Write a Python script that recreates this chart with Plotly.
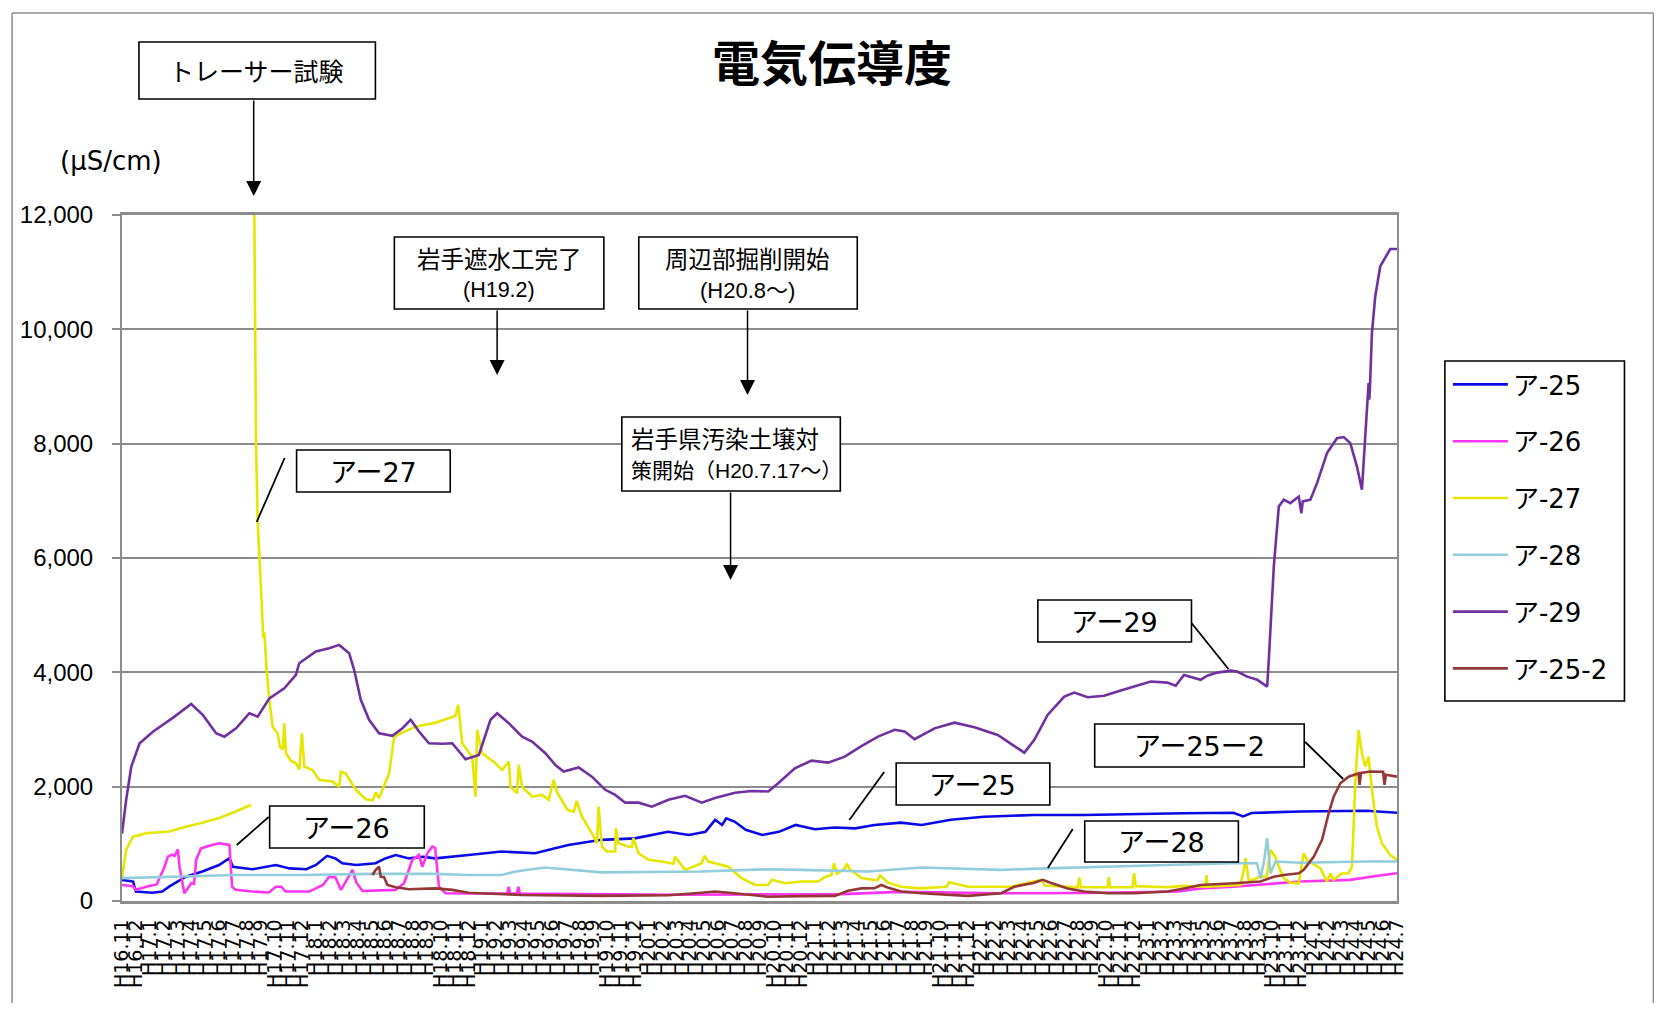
import plotly.graph_objects as go

# ---------------- data (x = months since H16.11) ----------------
era_months = [(16, m) for m in (11, 12)] + [(y, m) for y in range(17, 24) for m in range(1, 13)] + [(24, m) for m in range(1, 8)]
tick_labels = ["H%d.%d" % (y, m) for (y, m) in era_months]
tick_positions = list(range(len(tick_labels)))

a25_x = [0, 0.8, 1.0, 2.2, 2.9, 3.4, 4.6, 5.8, 7.0, 7.75, 8.0, 9.4, 11.1, 12.1, 13.3, 14.0, 14.8, 15.4, 15.9, 16.9,
         18.3, 19.0, 19.75, 20.7, 21.7, 22.6, 25.0, 27.4, 29.8, 32.2, 34.6, 37.0, 39.4, 40.9, 42.1, 42.8, 43.3, 43.6,
         44.2, 45.0, 46.2, 47.4, 48.6, 50.0, 51.4, 52.9, 54.3, 56.2, 57.7, 59.8, 62.2, 65.8, 69.4, 73.0, 76.6, 80.2,
         80.9, 81.5, 85.0, 89.8, 92]
a25_y = [370, 340, 165, 145, 165, 250, 425, 515, 630, 750, 600, 555, 630, 570, 555, 630, 790, 745, 660, 630,
         660, 745, 805, 745, 775, 745, 805, 865, 835, 980, 1070, 1095, 1210, 1155, 1210, 1420, 1330, 1445,
         1390, 1245, 1155, 1210, 1330, 1255, 1285, 1270, 1330, 1370, 1330, 1420, 1475, 1505, 1505, 1525, 1535, 1545,
         1480, 1540, 1565, 1580, 1545]

a26_x = [0, 0.8, 1.0, 1.75, 2.5, 3.07, 3.31, 3.6, 3.8, 4.03, 4.15, 4.5, 5.0, 5.2, 5.35, 5.7, 6.3, 7.0, 7.75, 7.94,
         8.2, 9.4, 10.6, 11.1, 11.5, 11.8, 13.5, 14.5, 14.95, 15.4, 15.8, 16.27, 16.63, 16.9, 17.35, 19.75, 20.35,
         20.95, 21.43, 21.67, 22.03, 22.39, 22.6, 22.87, 23.35, 27.8, 27.9, 28.0, 28.5, 28.6, 28.7, 40.0, 52.0, 56.0,
         63.4, 69.4, 76.2, 77.8, 80.2, 85.0, 88.6, 91.0, 92]
a26_y = [280, 260, 195, 250, 290, 600, 775, 810, 790, 905, 600, 135, 310, 300, 720, 920, 965, 1010, 980, 250,
         195, 165, 150, 250, 250, 165, 165, 280, 425, 410, 195, 395, 545, 330, 175, 195, 310,
         720, 805, 600, 835, 950, 930, 250, 135, 130, 250, 130, 130, 250, 130, 110, 120, 160,
         135, 140, 165, 220, 250, 340, 370, 455, 485]

a27_x = [0, 0.3, 0.8, 1.75, 3.4, 4.6, 5.8, 7.0, 8.2, 9.3, None,
         9.55, 9.67, 9.79, 10.0, 10.11, 10.2, 10.27, 10.45, 10.63, 10.87, 11.23, 11.4, 11.6, 11.71, 11.83, 12.2,
         12.55, 12.8, 12.98, 13.15, 13.75, 14.23, 15.19, 15.67, 15.79, 16.15, 16.87, 17.59, 18.1, 18.3, 18.55,
         18.91, 19.27, 19.63, 19.87, 21.19, 22.63, 24.07, 24.26, 24.35, 24.55, 25.27, 25.51, 25.63, 25.99, 26.95,
         27.43, 27.91, 28.03, 28.51, 28.63, 28.87, 29.59, 30.31, 30.79, 31.15, 31.4, 32.15, 32.6, 32.8, 33.19,
         33.91, 34.27, 34.39, 34.63, 34.99, 35.59, 35.64, 35.83, 36.55, 36.8, 36.9, 37.27, 37.99, 38.95, 39.8,
         39.9, 40.63, 41.83, 42.02, 42.31, 43.75, 44.71, 45.67, 46.63, 46.9, 47.83, 49.03, 50.23, 50.71, 51.19,
         51.38, 51.6, 52.15, 52.3, 52.5, 53.35, 54.5, 54.7, 55.27, 56.23, 57.67, 59.5, 59.7, 61.03, 64.15, 66.31,
         66.6, 68.95, 69.07, 69.2, 71.11, 71.2, 71.3, 72.91, 73.03, 73.15, 75.43, 76.6, 78.19, 78.25, 78.35, 80.71,
         80.95, 81.07, 81.31, 82.03, 82.6, 82.87, 83.2, 83.47, 83.83, 84.31, 84.91, 85.1, 85.27, 85.51, 86.47,
         86.95, 87.2, 87.43, 88.0, 88.51, 88.75, 89.0, 89.23, 89.47, 89.71, 89.95, 90.19, 90.55, 90.91, 91.51, 92]
a27_y = [400, 900, 1125, 1185, 1215, 1300, 1370, 1450, 1565, 1680, None,
         12000, 8000, 6650, 5600, 5270, 4600, 4700, 4000, 3520, 3050, 2930, 2700, 2650, 3110, 2585, 2450,
         2410, 2300, 2935, 2350, 2290, 2120, 2090, 2000, 2260, 2230, 1945, 1780, 1760, 1900, 1800,
         2000, 2230, 2850, 2905, 3050, 3120, 3240, 3430, 3230, 2760, 2525, 1825, 2990, 2585, 2410,
         2290, 2440, 2000, 1885, 2380, 2000, 1825, 1855, 1770, 2120, 1900, 1595, 1560, 1750, 1475,
         1185, 1010, 1650, 950, 865, 865, 1270, 1010, 950, 950, 1100, 835, 720, 690, 650,
         780, 545, 660, 790, 690, 600, 400, 280, 280, 370, 310, 340, 340, 415, 455,
         660, 480, 570, 650, 560, 400, 360, 450, 320, 250, 220, 250, 330, 250, 250, 370,
         270, 240, 410, 240, 240, 420, 240, 240, 485, 260, 240, 265, 250, 450, 250, 280,
         545, 750, 340, 415, 430, 895, 780, 600, 400, 320, 310, 600, 835, 720, 570,
         340, 480, 370, 480, 485, 600, 2120, 2990, 2585, 2350, 2525, 1945, 1300, 1010, 805, 720]

a28_x = [0, 3.4, 8.2, 13.0, 17.8, 22.6, 25.0, 27.4, 28.4, 30.5, 32.2, 34.6, 41.8, 46.6, 49.0, 53.8, 57.7, 59.8,
         63.4, 66.8, 70.6, 75.4, 80.2, 81.9, 82.15, 82.4, 82.63, 82.87, 83.23, 85.0, 89.8, 92]
a28_y = [400, 425, 455, 455, 475, 475, 455, 455, 515, 585, 545, 500, 515, 555, 545, 515, 585, 570,
         545, 570, 600, 630, 660, 660, 400, 690, 1100, 485, 690, 670, 690, 690]

a29_x = [0, 0.3, 0.67, 1.27, 2.23, 2.95, 3.79, 4.99, 5.83, 6.79, 7.39, 8.23, 9.19, 9.79, 10.63, 11.71, 12.55,
         12.79, 13.99, 14.95, 15.67, 16.39, 16.75, 17.23, 17.83, 18.55, 19.51, 20.23, 20.83, 21.43, 22.15, 23.11,
         23.83, 24.79, 25.75, 26.59, 27.07, 27.91, 28.87, 29.59, 30.55, 31.27, 31.87, 32.95, 33.91, 34.87, 35.59,
         36.31, 37.27, 38.23, 39.43, 40.63, 41.83, 42.79, 44.23, 45.43, 46.63, 47.35, 48.55, 49.75, 50.95, 52.15,
         53.35, 54.55, 55.75, 56.47, 57.19, 58.63, 60.07, 61.51, 63.19, 64.39, 65.11, 65.83, 66.79, 67.99, 68.71,
         69.67, 70.87, 71.83, 73.03, 74.23, 75.43, 76.03, 76.63, 77.83, 78.31, 79.03, 79.99, 80.47, 81.19, 81.91,
         82.63, 82.75, 83.11, 83.47, 83.83, 84.31, 84.91, 85.1, 85.2, 85.35, 85.75, 86.23, 86.95, 87.67, 88.15,
         88.63, 89.11, 89.47, 89.71, 89.95, 90.0, 90.05, 90.19, 90.43, 90.79, 91.51, 92]
a29_y = [1180, 1770, 2350, 2760, 2960, 3080, 3225, 3445, 3255, 2935, 2875, 3020, 3285, 3225, 3545, 3720, 3955,
         4160, 4365, 4420, 4480, 4335, 4045, 3520, 3170, 2935, 2890, 3020, 3170, 2965, 2760, 2750,
         2760, 2480, 2555, 3170, 3285, 3110, 2875, 2790, 2585, 2380, 2265, 2335, 2175, 1945, 1855,
         1720, 1720, 1650, 1770, 1840, 1720, 1800, 1895, 1925, 1915, 2060, 2320, 2455, 2420, 2525,
         2710, 2875, 2995, 2965, 2830, 3020, 3120, 3040, 2905, 2710, 2595, 2820, 3255, 3575, 3645,
         3565, 3590, 3665, 3750, 3840, 3820, 3765, 3955, 3870, 3940, 3995, 4030, 4015, 3925, 3870,
         3750, 4220, 5850, 6900, 7020, 6960, 7075, 6780, 6990, 7000, 7020, 7310, 7835, 8095, 8115,
         8010, 7600, 7195, 8185, 9060, 8770, 9000, 9935, 10575, 11100, 11405, 11405]

a25_2_x = [18.07, 18.31, 18.55, 18.67, 18.9, 19.15, 19.75, 20.71, 22.63, 23.83, 25.03, 28.87, 34.6, 39.4, 41.83,
           42.79, 44.2, 46.63, 49.0, 51.43, 52.39, 53.35, 54.3, 54.79, 55.3, 56.23, 57.67, 59.8, 61.03, 63.43,
           64.39, 65.83, 66.43, 67.0, 68.23, 69.43, 71.11, 73.03, 75.43, 76.63, 77.83, 80.23, 82.15, 83.11, 83.83,
           84.91, 85.27, 85.99, 86.59, 87.07, 87.43, 87.91, 88.51, 89.23, 89.3, 89.4, 90.07, 91.0, 91.1, 91.2, 91.99]
a25_2_y = [455, 545, 600, 425, 420, 280, 240, 205, 220, 195, 145, 105, 90, 100, 145,
           165, 135, 75, 85, 90, 180, 220, 225, 280, 230, 165, 135, 105, 90, 135,
           250, 320, 370, 320, 220, 165, 135, 135, 165, 220, 280, 310, 340, 425, 455,
           485, 545, 775, 1070, 1535, 1825, 2060, 2175, 2235, 2030, 2240, 2265, 2260, 2030, 2210, 2175]

series_names = ["ア-25", "ア-26", "ア-27", "ア-28", "ア-29", "ア-25-2"]
series_x = [a25_x, a26_x, a27_x, a28_x, a29_x, a25_2_x]
series_y = [a25_y, a26_y, a27_y, a28_y, a29_y, a25_2_y]
series_colors = ["#0a0ae6", "#ff33f0", "#e6e600", "#92cddc", "#7030a0", "#953735"]

y_ticks = [0, 2000, 4000, 6000, 8000, 10000, 12000]

# ---------------- layout geometry (screen pixels; page body has an 8px margin) ----------------
OFF = 8
W, H = 1662 - 2 * OFF, 1011 - 2 * OFF
L, R, T, B = 119, 1397, 215, 901   # plot area on screen


def px(X):
    return (X - L) / (R - L)


def py(Y):
    return (B - Y) / (B - T)


LATIN = "Liberation Sans, Arial, Noto Sans CJK JP"
WIDE = "DejaVu Sans, Noto Sans CJK JP"
CJK = "Noto Sans CJK JP"

fig = go.Figure()
for i, (name, xs, ys, col) in enumerate(zip(series_names, series_x, series_y, series_colors)):
    fig.add_trace(go.Scatter(x=xs, y=ys, name=name, mode="lines", legendgroup="g%d" % i,
                             line=dict(color=col, width=2.6), connectgaps=False))

shapes = []
annots = []

# outer frame (left, top, right edges; it runs off the bottom of the page)
frame = dict(color="#8c8c8c", width=1.5)
fl, fr, ft, fb = OFF + 0.8, 1654, 13, 1011
for (x0, y0, x1, y1) in [(fl, fb, fl, ft), (fl, ft, fr, ft), (fr, ft, fr, fb)]:
    shapes.append(dict(type="line", xref="paper", yref="paper", x0=px(x0), x1=px(x1), y0=py(y0), y1=py(y1),
                       line=frame, layer="below"))
# legend frame
shapes.append(dict(type="rect", xref="paper", yref="paper", x0=px(1445), x1=px(1625), y0=py(701), y1=py(361),
                   line=dict(color="black", width=1.6), fillcolor="white", layer="below"))


def box(x0, y0, x1, y1):
    shapes.append(dict(type="rect", xref="paper", yref="paper", x0=px(x0), x1=px(x1), y0=py(y1), y1=py(y0),
                       line=dict(color="black", width=1.6), fillcolor="white", layer="above"))


def text(x, y, s, size, family=CJK, anchor="center"):
    annots.append(dict(xref="paper", yref="paper", x=px(x), y=py(y), text=s, showarrow=False,
                       xanchor=anchor, yanchor="middle", font=dict(size=size, family=family, color="black")))


def seg(x0, y0, x1, y1):
    shapes.append(dict(type="line", xref="paper", yref="paper", x0=px(x0), x1=px(x1), y0=py(y0), y1=py(y1),
                       line=dict(color="black", width=1.8), layer="above"))


def arrow(x, y_start, y_tip):
    annots.append(dict(xref="paper", yref="paper", x=px(x), y=py(y_tip), ax=0, ay=y_start - y_tip,
                       axref="pixel", ayref="pixel", text="", showarrow=True, arrowhead=2,
                       arrowsize=2.0, arrowwidth=1.5, arrowcolor="black"))


# event boxes
box(136, 42, 373, 99)
text(254, 70, "トレーサー試験", 25)
arrow(251, 99, 196)

box(392, 237, 602, 309)
text(497, 258, "岩手遮水工完了", 23.5)
text(497, 290, "(H19.2)", 21.5, family=LATIN)
arrow(495, 309, 375)

box(637, 237, 856, 309)
text(746, 258, "周辺部掘削開始", 23.5)
text(746, 290, "(H20.8～)", 22, family=LATIN)
arrow(746, 309, 395)

box(620, 417, 839, 491)
text(627, 438, "岩手県汚染土壌対", 23.5, anchor="left")
text(627, 470, "策開始（H20.7.17～）", 21, family=LATIN, anchor="left")
arrow(729, 491, 580)

# series labels
label_boxes = [
    ("アー27", (294, 450, 448, 492), (282, 458, 254, 522)),
    ("アー26", (267, 806, 422, 848), (266, 817, 234, 845)),
    ("アー25", (895, 763, 1049, 805), (883, 772, 848, 820)),
    ("アー28", (1084, 821, 1238, 862), (1072, 829, 1047, 868)),
    ("アー25ー2", (1094, 724, 1304, 767), (1305, 742, 1343, 779)),
    ("アー29", (1037, 600, 1191, 642), (1191, 623, 1228, 669)),
]
for s, (bx0, by0, bx1, by1), (lx0, ly0, lx1, ly1) in label_boxes:
    seg(lx0, ly0, lx1, ly1)
    box(bx0, by0, bx1, by1)
    text((bx0 + bx1) / 2, (by0 + by1) / 2 + 1, s, 27, family=WIDE)

# unit label
text(108, 161, "(μS/cm)", 26, family=WIDE)

fig.update_layout(
    width=W, height=H,
    margin=dict(l=L - OFF, r=W - (R - OFF), t=T - OFF, b=H - (B - OFF), pad=0),
    paper_bgcolor="white", plot_bgcolor="white",
    title=dict(text="<b>電気伝導度</b>", x=(832 - OFF) / W, xanchor="center", y=1 - (64 - OFF) / H,
               yanchor="middle", font=dict(size=48, family=CJK, color="black")),
    shapes=shapes, annotations=annots,
    legend=dict(x=px(1448), y=py(361), xanchor="left", yanchor="top", bgcolor="rgba(0,0,0,0)",
                borderwidth=0, traceorder="grouped", tracegroupgap=20,
                font=dict(size=26, family=WIDE, color="black"), itemwidth=55),
    showlegend=True,
)
fig.update_xaxes(range=[0, 92], tickmode="array", tickvals=tick_positions, ticktext=tick_labels,
                 tickangle=-90, showgrid=False, zeroline=False, showline=True, linecolor="#8c8c8c",
                 linewidth=2.5, mirror=True, ticks="", ticklabelstandoff=8,
                 tickfont=dict(size=19, family="DejaVu Sans", color="black"))
fig.update_yaxes(range=[0, 12000], tickmode="array", tickvals=y_ticks, tickformat=",", showgrid=True,
                 gridcolor="#8c8c8c", gridwidth=1.6, zeroline=False, showline=True, linecolor="#8c8c8c",
                 linewidth=2, mirror=True, ticks="outside", ticklen=8, tickcolor="#8c8c8c", tickwidth=1.6,
                 ticklabelstandoff=14, tickfont=dict(size=24, family=LATIN, color="black"))

fig.write_html("out.html")
